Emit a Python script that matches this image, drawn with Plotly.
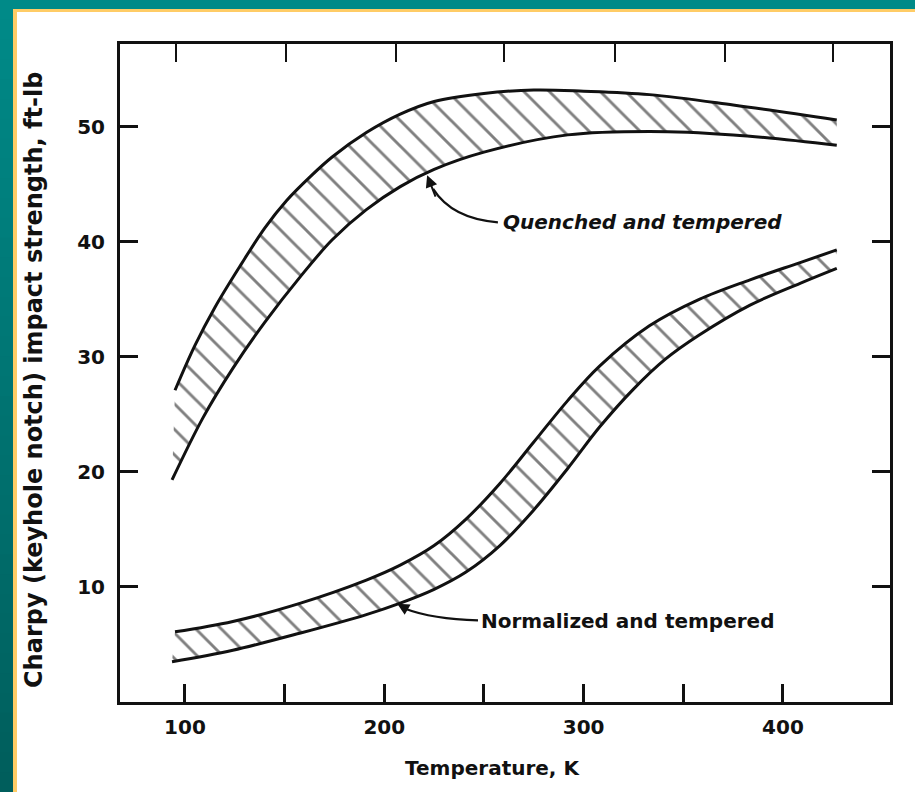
import plotly.graph_objects as go

# Charpy impact strength bands (ft-lb) against temperature (K)
qt_temp_upper = [95, 105, 115, 128, 140, 151, 163, 174, 191, 208, 225, 250, 275, 300, 333, 375, 427]
qt_upper = [27.1, 31.0, 34.3, 38.0, 41.2, 43.6, 45.7, 47.4, 49.5, 51.1, 52.2, 52.9, 53.2, 53.1, 52.8, 51.9, 50.6]
qt_temp_lower = [93.5, 109, 124, 140, 158, 174, 191, 208, 225, 250, 292, 333, 375, 427]
qt_lower = [19.3, 24.7, 29.0, 33.0, 37.0, 40.2, 42.8, 44.8, 46.3, 47.8, 49.3, 49.6, 49.3, 48.4]

nt_temp_upper = [95, 124, 158, 191, 208, 225, 241, 258, 275, 292, 308, 333, 358, 383.5, 408.6, 427]
nt_upper = [6.1, 7.0, 8.6, 10.6, 11.9, 13.6, 15.9, 19.0, 22.6, 26.2, 29.2, 32.7, 35.0, 36.7, 38.2, 39.3]
nt_temp_lower = [93.5, 124, 158, 191, 208, 225, 241, 258, 275, 292, 308, 325, 341, 358, 383.5, 408.6, 427]
nt_lower = [3.5, 4.5, 6.0, 7.6, 8.6, 9.8, 11.3, 13.6, 16.7, 20.3, 23.9, 27.2, 29.8, 31.9, 34.5, 36.4, 37.7]

x_ticks = [100, 150, 200, 250, 300, 350, 400]
x_tick_labels = ["100", "", "200", "", "300", "", "400"]
y_ticks = [10, 20, 30, 40, 50]
y_tick_labels = ["10", "20", "30", "40", "50"]
top_ticks = [95.5, 150.7, 205.9, 260.1, 315.8, 371.0, 425.2]

W, H = 915, 792
ML, MR, MT, MB = 120, 25, 44, 90
PW, PH = W - ML - MR, H - MT - MB


def px_x(p):
    return (p - ML) / PW


def px_y(p):
    return (H - MB - p) / PH


FONT = "DejaVu Sans"
INK = "#111111"

fig = go.Figure()


def add_band(tu, yu, tl, yl):
    fig.add_trace(go.Scatter(
        x=tl, y=yl, mode="lines", line=dict(color=INK, width=3, shape="spline", smoothing=1.0),
        hoverinfo="skip", showlegend=False))
    fig.add_trace(go.Scatter(
        x=tu, y=yu, mode="lines", line=dict(color=INK, width=3, shape="spline", smoothing=1.0),
        fill="tonexty", fillcolor="white",
        fillpattern=dict(shape="\\", size=18, solidity=0.16, fgcolor="black", bgcolor="white"),
        hoverinfo="skip", showlegend=False))


add_band(qt_temp_upper, qt_upper, qt_temp_lower, qt_lower)
add_band(nt_temp_upper, nt_upper, nt_temp_lower, nt_lower)

# hidden trace so the top tick axis is laid out
fig.add_trace(go.Scatter(x=[None], y=[None], xaxis="x2", mode="lines", showlegend=False, hoverinfo="skip"))

x_range = [67.4, 453.7]

# frame around the page
shapes = []
shapes.append(dict(type="rect", xref="paper", yref="paper", x0=px_x(-5), x1=px_x(W + 5),
                   y0=px_y(9), y1=px_y(-5), fillcolor="#008a88", line=dict(width=0), layer="below"))
n_strips = 40
top_rgb = (0, 138, 136)
bot_rgb = (0, 94, 92)
for i in range(n_strips):
    f = i / (n_strips - 1)
    c = tuple(round(a + (b - a) * f) for a, b in zip(top_rgb, bot_rgb))
    y0p = i * H / n_strips
    y1p = (i + 1) * H / n_strips + 1
    shapes.append(dict(type="rect", xref="paper", yref="paper", x0=px_x(-5), x1=px_x(13),
                       y0=px_y(y1p), y1=px_y(y0p), fillcolor="rgb(%d,%d,%d)" % c,
                       line=dict(width=0), layer="below"))
shapes.append(dict(type="rect", xref="paper", yref="paper", x0=px_x(13), x1=px_x(W + 5),
                   y0=px_y(12), y1=px_y(9), fillcolor="#ffcc66", line=dict(width=0), layer="below"))
shapes.append(dict(type="rect", xref="paper", yref="paper", x0=px_x(13), x1=px_x(17),
                   y0=px_y(H + 5), y1=px_y(9), fillcolor="#ffcc66", line=dict(width=0), layer="below"))

# curved leaders from the labels to the bands
shapes.append(dict(type="path", xref="x", yref="y",
                   path="M 257,41.7 Q 234,42.0 224.5,44.6",
                   line=dict(color=INK, width=2.2)))
shapes.append(dict(type="path", xref="x", yref="y",
                   path="M 247,7.1 Q 224,7.2 210.5,8.1",
                   line=dict(color=INK, width=2.2)))

annotations = [
    dict(x=258.5, y=41.7, xref="x", yref="y", text="Quenched and tempered", showarrow=False,
         xanchor="left", yanchor="middle",
         font=dict(family=FONT, size=20, color=INK, style="italic", weight="bold")),
    dict(x=247.5, y=7.0, xref="x", yref="y", text="Normalized and tempered", showarrow=False,
         xanchor="left", yanchor="middle",
         font=dict(family=FONT, size=20, color=INK, weight="bold")),
    dict(x=221.5, y=45.8, ax=226, ay=43.8, xref="x", yref="y", axref="x", ayref="y", text="",
         showarrow=True, arrowhead=2, arrowsize=1.2, arrowwidth=2, arrowcolor=INK),
    dict(x=206.5, y=8.55, ax=212, ay=8.0, xref="x", yref="y", axref="x", ayref="y", text="",
         showarrow=True, arrowhead=2, arrowsize=1.2, arrowwidth=2, arrowcolor=INK),
    # axis titles
    dict(x=px_x(492), y=px_y(768), xref="paper", yref="paper", text="Temperature, K",
         showarrow=False, xanchor="center", yanchor="middle",
         font=dict(family=FONT, size=20, color=INK, weight="bold")),
    dict(x=px_x(34), y=px_y(380), xref="paper", yref="paper",
         text="Charpy (keyhole notch) impact strength, ft-lb", textangle=-90,
         showarrow=False, xanchor="center", yanchor="middle",
         font=dict(family=FONT, size=24, color=INK, weight="bold")),
]

fig.update_layout(
    width=W, height=H,
    margin=dict(l=ML, r=MR, t=MT, b=MB, autoexpand=False),
    paper_bgcolor="white", plot_bgcolor="rgba(0,0,0,0)",
    showlegend=False,
    shapes=shapes, annotations=annotations,
    xaxis=dict(range=x_range, showline=True, linewidth=3, linecolor=INK, mirror=True,
               ticks="inside", ticklen=18, tickwidth=2.5, tickcolor=INK,
               tickvals=x_ticks, ticktext=x_tick_labels, ticklabelstandoff=5,
               showgrid=False, zeroline=False,
               tickfont=dict(family=FONT, size=20, color=INK, weight="bold")),
    xaxis2=dict(range=x_range, overlaying="x", side="top", anchor="y", showline=False,
                ticks="inside", ticklen=18, tickwidth=2.2, tickcolor=INK,
                tickvals=top_ticks, showticklabels=False, showgrid=False, zeroline=False),
    yaxis=dict(range=[0, 57.2], showline=True, linewidth=3, linecolor=INK, mirror="ticks",
               ticks="inside", ticklen=18, tickwidth=2.5, tickcolor=INK,
               tickvals=y_ticks, ticktext=y_tick_labels, ticklabelstandoff=8,
               showgrid=False, zeroline=False,
               tickfont=dict(family=FONT, size=20, color=INK, weight="bold")),
)

fig.write_html("out.html")
